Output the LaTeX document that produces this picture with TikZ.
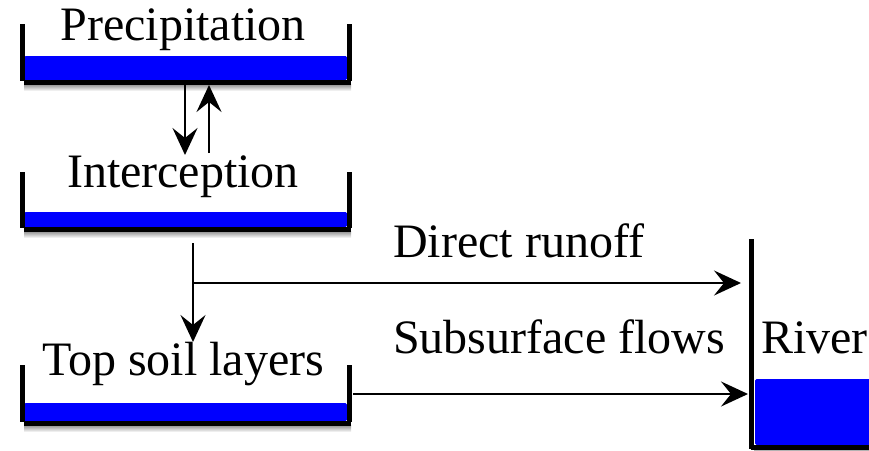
\documentclass[tikz,border=0pt]{standalone}
\usepackage{fontspec}
\setmainfont{Liberation Serif}
\usetikzlibrary{arrows.meta}

\tikzset{
  wall/.style={line width=5pt},
  water/.style={fill=blue, rounded corners=1.5pt},
  label/.style={font=\fontsize{48}{58}\selectfont, inner sep=0pt, anchor=base},
  flow/.style={line width=2.5pt, -{Stealth[length=27pt,width=25pt,inset=10pt]}},
}

% storage tank: #1 wall top, #2 water top, #3 water bottom
\newcommand\hydrotank[3]{%
  \shade[top color=black!45, bottom color=white] (24,#3+4) rectangle (351,#3+11);
  \fill[water] (24,#2) rectangle (347,#3);
  \draw[wall] (24,#3+2.5) -- (351,#3+2.5);
  \draw[wall] (22,#1) -- (22,#3+1);
  \draw[wall] (349.5,#1) -- (349.5,#3+1);
}

\begin{document}
\begin{tikzpicture}[x=1pt,y=-1pt]
\useasboundingbox (0,0) rectangle (869,450);

% tanks
\hydrotank{24}{56}{80}
\hydrotank{172}{212}{227}
\hydrotank{365}{403}{421}

% river
\shade[top color=black!45, bottom color=white] (754,449) rectangle (869,452);
\fill[blue, rounded corners=1.5pt] (755,379) rectangle (872,445);
\draw[wall] (751.5,239) -- (751.5,449);
\draw[wall] (751,447) -- (869,447);

% labels
\node[label] (precip) at (183,40) {Precipitation};
\node[label] (intercept) at (183,187) {Interception};
\node[label] (soil) at (183,375) {Top soil layers};
\node[label, anchor=base west] (runoff) at (393,257) {Direct runoff};
\node[label, anchor=base west] (subsurf) at (393,353) {Subsurface flows};
\node[label, anchor=base west] (river) at (761,353) {River};

% connector end points
\coordinate (p-out) at (185,85);
\coordinate (i-in) at (185,155);
\coordinate (i-up) at (209,153);
\coordinate (p-in) at (209,85);
\coordinate (i-out) at (193,243);
\coordinate (split) at (193,283);
\coordinate (s-in) at (193,342);
\coordinate (r-top) at (741,283);
\coordinate (s-out) at (353,394);
\coordinate (r-bot) at (748,394);

% flows
\draw[flow] (p-out) -- (i-in);
\draw[flow] (i-up) -- (p-in);
\draw[flow] (i-out) -- (s-in);
\draw[flow] (split) -- (r-top);
\draw[flow] (s-out) -- (r-bot);
\end{tikzpicture}
\end{document}
